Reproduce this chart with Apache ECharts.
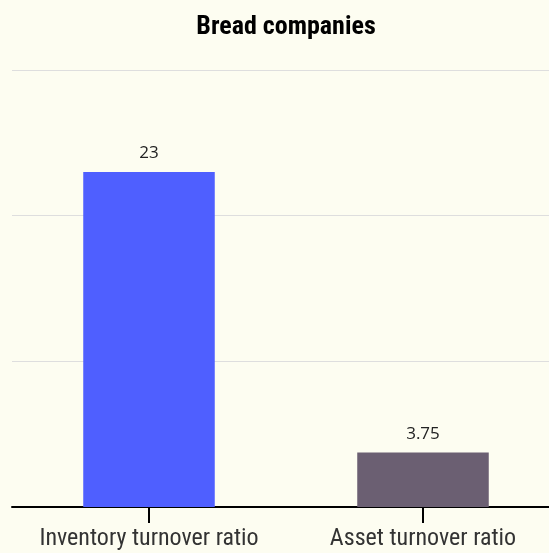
<!DOCTYPE html>
<html>
<head>
<meta charset="utf-8">
<script src="https://cdn.jsdelivr.net/npm/echarts@6/dist/echarts.min.js"></script>
<style>
  html, body { margin: 0; padding: 0; background: #fdfdf1; overflow: hidden; }
  /* the original chart is wider than the picture and cropped on the right */
  #chart { width: 572px; height: 553px; }
</style>
</head>
<body>
<div id="chart"></div>
<script>
const categories = ['Inventory turnover ratio', 'Asset turnover ratio'];
const values = [23, 3.75];
const barColors = ['#4f5fff', '#6b5f72'];

const chart = echarts.init(document.getElementById('chart'), null, { renderer: 'canvas' });

chart.setOption({
    backgroundColor: '#fdfdf1',
    title: {
        text: 'Bread companies',
        left: 'center',
        top: 9,
        textStyle: {
            fontFamily: '"Roboto Condensed", "Liberation Sans Narrow", Roboto',
            fontWeight: 'bold',
            fontSize: 26,
            color: '#000'
        }
    },
    grid: { left: 12, right: 12, top: 70, bottom: 46, containLabel: false },
    xAxis: {
        type: 'category',
        data: categories,
        axisLine: { lineStyle: { color: '#000', width: 2 } },
        axisTick: { show: true, alignWithLabel: true, length: 16, lineStyle: { color: '#000', width: 2 } },
        axisLabel: {
            interval: 0,
            margin: 20,
            fontFamily: '"Roboto Condensed", "Liberation Sans Narrow", Roboto',
            fontSize: 24,
            color: '#333'
        }
    },
    yAxis: {
        type: 'value',
        min: 0,
        max: 30,
        interval: 10,
        axisLabel: { show: false },
        axisLine: { show: false },
        axisTick: { show: false },
        splitLine: { lineStyle: { color: '#dedede', width: 1 } }
    },
    series: [{
        type: 'bar',
        barWidth: '48%',
        data: values.map((v, i) => ({ value: v, itemStyle: { color: barColors[i] } })),
        label: {
            show: true,
            position: 'top',
            distance: 10,
            fontFamily: '"Open Sans", "Noto Sans"',
            fontSize: 17,
            color: '#222'
        }
    }]
});
</script>
</body>
</html>
